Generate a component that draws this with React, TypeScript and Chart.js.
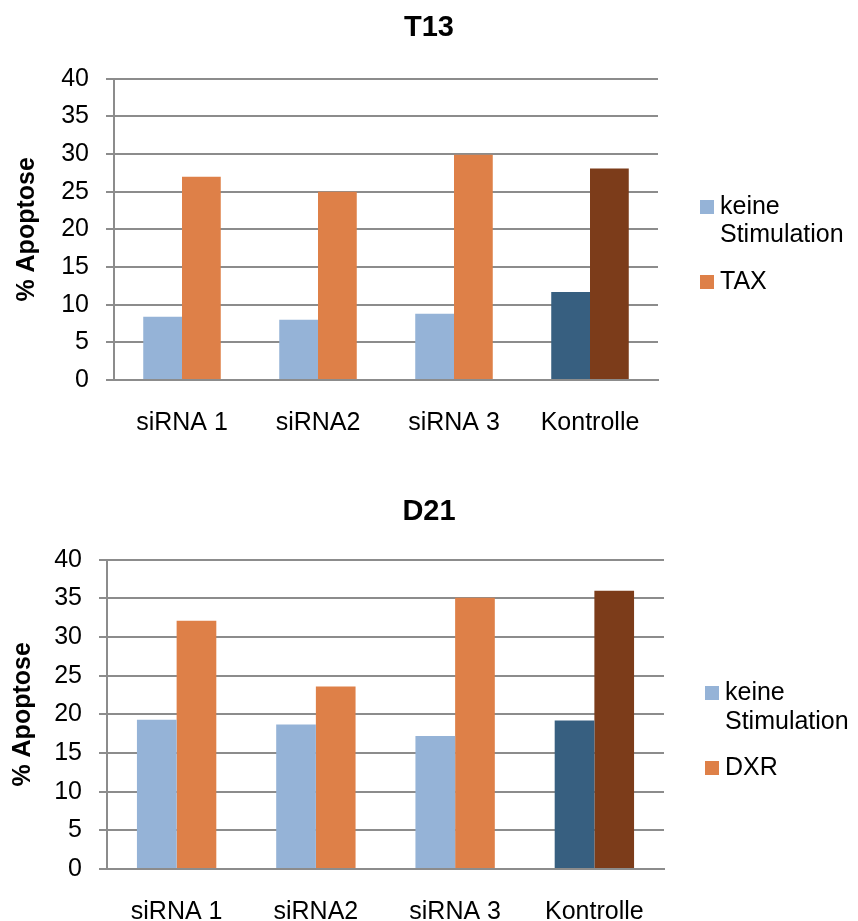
import React, { useEffect, useRef } from "react";
import { Chart, registerables } from "chart.js";

Chart.register(...registerables);

const categories = ["siRNA 1", "siRNA2", "siRNA 3", "Kontrolle"];
const yTicks = [0, 5, 10, 15, 20, 25, 30, 35, 40];

const t13Title = "T13";
const t13KeineLabel = "keine Stimulation";
const t13TaxLabel = "TAX";
const t13Keine = [8.4, 8.0, 8.8, 11.7];
const t13Tax = [27.0, 25.0, 29.9, 28.1];

const d21Title = "D21";
const d21KeineLabel = "keine Stimulation";
const d21DxrLabel = "DXR";
const d21Keine = [19.3, 18.7, 17.2, 19.2];
const d21Dxr = [32.1, 23.6, 35.1, 36.0];

const yTitle = "% Apoptose";

const FONT = "'Liberation Sans', Arial, Helvetica, sans-serif";
const LIGHT_BLUE = "#95B3D7";
const DARK_BLUE = "#375F80";
const ORANGE = "#DE8048";
const BROWN = "#7C3C1A";
const GRID = "#8C8C8C";

type LegendOpts = {
  x: number;
  y: number;
  lineH: number;
  gap: number;
  box: number;
  textX: number;
  fontSize: number;
};

const customLegend = {
  id: "customLegend",
  afterDraw(chart: any, _args: any, opts: any) {
    const o: LegendOpts = opts;
    if (!o || o.x === undefined) return;
    const ctx = chart.ctx;
    ctx.save();
    ctx.font = `${o.fontSize}px ${FONT}`;
    ctx.textBaseline = "middle";
    ctx.textAlign = "left";
    const maxW = chart.width - o.textX - 2;
    let cy = o.y;
    chart.data.datasets.forEach((ds: any) => {
      const color = Array.isArray(ds.backgroundColor) ? ds.backgroundColor[0] : ds.backgroundColor;
      ctx.fillStyle = color;
      ctx.fillRect(o.x, cy - o.box / 2, o.box, o.box);
      const words = String(ds.label).split(" ");
      const lines: string[] = [];
      let cur = "";
      words.forEach((w) => {
        const test = cur ? cur + " " + w : w;
        if (ctx.measureText(test).width > maxW && cur) {
          lines.push(cur);
          cur = w;
        } else cur = test;
      });
      if (cur) lines.push(cur);
      ctx.fillStyle = "#000";
      lines.forEach((ln, i) => {
        ctx.fillText(ln, o.textX, cy + i * o.lineH);
      });
      cy += (lines.length - 1) * o.lineH + o.gap;
    });
    ctx.restore();
  },
};

type Cfg = {
  title: string;
  keineLabel: string;
  treatLabel: string;
  keine: number[];
  treat: number[];
  height: number;
  axisWidth: number;
  xAxisHeight: number;
  padRight: number;
  titlePadTop: number;
  titlePadBottom: number;
  yTitlePad: number;
  xLabelPad: number;
  legend: LegendOpts;
};

function BarChart(props: { cfg: Cfg; top: number }) {
  const ref = useRef<HTMLCanvasElement | null>(null);
  const { cfg, top } = props;
  useEffect(() => {
    if (!ref.current) return;
    const chart = new Chart(ref.current, {
      type: "bar",
      data: {
        labels: categories,
        datasets: [
          {
            label: cfg.keineLabel,
            data: cfg.keine,
            backgroundColor: [LIGHT_BLUE, LIGHT_BLUE, LIGHT_BLUE, DARK_BLUE],
            borderWidth: 0,
          },
          {
            label: cfg.treatLabel,
            data: cfg.treat,
            backgroundColor: [ORANGE, ORANGE, ORANGE, BROWN],
            borderWidth: 0,
          },
        ],
      },
      options: {
        responsive: false,
        animation: false,
        devicePixelRatio: 1,
        layout: { padding: { top: 0, left: 0, right: 0, bottom: 0 } },
        datasets: { bar: { barPercentage: 1, categoryPercentage: 0.57 } },
        plugins: {
          legend: { display: false },
          tooltip: { enabled: false },
          title: {
            display: true,
            text: cfg.title,
            color: "#000",
            font: { family: FONT, size: 29, weight: "bold", lineHeight: 1.2 },
            padding: { top: cfg.titlePadTop, bottom: cfg.titlePadBottom },
          },
          customLegend: cfg.legend,
        } as any,
        scales: {
          x: {
            afterFit: (s: any) => {
              s.height = cfg.xAxisHeight;
            },
            grid: { display: false },
            border: { display: true, color: GRID, width: 2 },
            ticks: {
              color: "#000",
              font: { family: FONT, size: 25 },
              padding: cfg.xLabelPad,
              maxRotation: 0,
              autoSkip: false,
            },
          },
          y: {
            min: 0,
            max: 40,
            afterFit: (s: any) => {
              s.width = cfg.axisWidth;
            },
            afterBuildTicks: (s: any) => {
              s.ticks = yTicks.map((v) => ({ value: v }));
            },
            grid: { color: GRID, lineWidth: 2, tickLength: 8, drawTicks: true },
            border: { display: true, color: GRID, width: 2 },
            ticks: {
              color: "#000",
              font: { family: FONT, size: 25 },
              padding: 17,
            },
            title: {
              display: true,
              text: yTitle,
              color: "#000",
              font: { family: FONT, size: 25, weight: "bold", lineHeight: 1.2 },
              padding: { top: cfg.yTitlePad, bottom: 0 },
            },
          },
          legendSpace: {
            type: "linear",
            position: "right",
            display: true,
            min: 0,
            max: 40,
            afterFit: (s: any) => {
              s.width = cfg.padRight;
            },
            grid: { display: false, drawTicks: false },
            border: { display: false },
            ticks: { display: false },
          },
        } as any,
      },
      plugins: [customLegend],
    });
    return () => chart.destroy();
  }, []);
  return (
    <canvas
      ref={ref}
      width={858}
      height={cfg.height}
      style={{ position: "absolute", left: 0, top, width: 858, height: cfg.height, display: "block" }}
    />
  );
}

const topCfg: Cfg = {
  title: t13Title,
  keineLabel: t13KeineLabel,
  treatLabel: t13TaxLabel,
  keine: t13Keine,
  treat: t13Tax,
  height: 460,
  axisWidth: 114,
  xAxisHeight: 80,
  padRight: 200,
  titlePadTop: 11,
  titlePadBottom: 33,
  yTitlePad: 12,
  xLabelPad: 20,
  legend: { x: 700, y: 207, lineH: 28, gap: 47, box: 14, textX: 720, fontSize: 25 },
};

const bottomCfg: Cfg = {
  title: d21Title,
  keineLabel: d21KeineLabel,
  treatLabel: d21DxrLabel,
  keine: d21Keine,
  treat: d21Dxr,
  height: 461,
  axisWidth: 107,
  xAxisHeight: 52,
  padRight: 194,
  titlePadTop: 35,
  titlePadBottom: 30,
  yTitlePad: 8,
  xLabelPad: 20,
  legend: { x: 705, y: 233, lineH: 29, gap: 46, box: 14, textX: 725, fontSize: 25 },
};

export default function App() {
  return (
    <div style={{ position: "absolute", left: 0, top: 0, width: 858, height: 921, background: "#fff", overflow: "hidden" }}>
      <BarChart cfg={topCfg} top={0} />
      <BarChart cfg={bottomCfg} top={460} />
    </div>
  );
}
